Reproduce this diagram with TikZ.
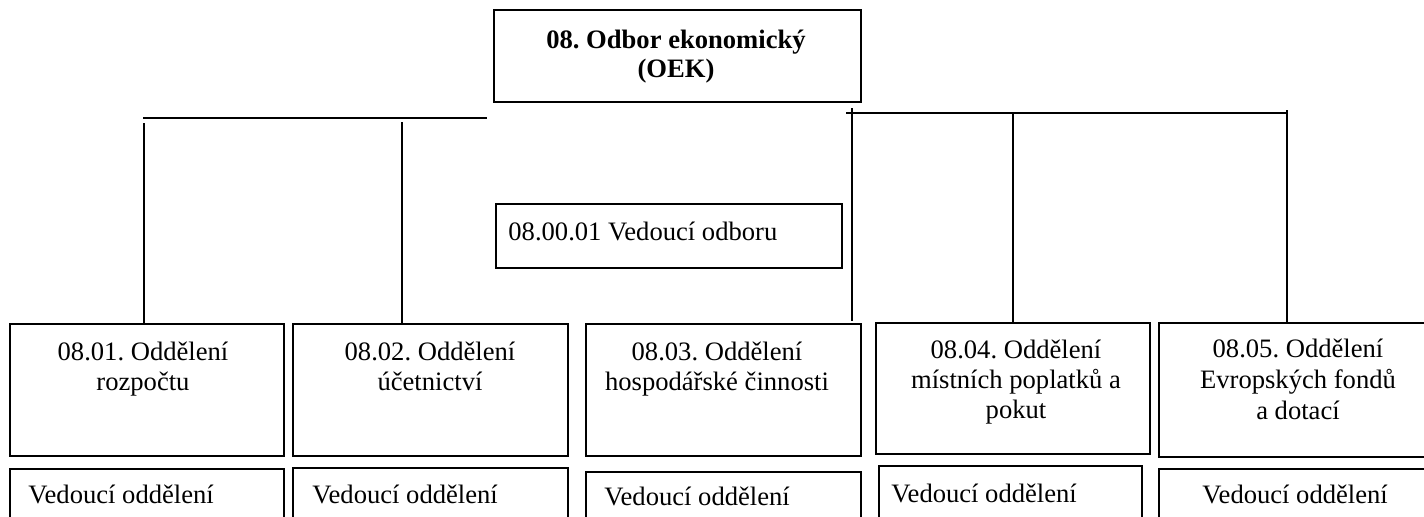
\documentclass[tikz,border=0pt]{standalone}
\usepackage{fontspec}
\setmainfont{Liberation Serif}
\frenchspacing
\begin{document}
\begin{tikzpicture}[x=0.5pt,y=-0.5pt,
  conn/.style={line width=1pt},
  box/.style={draw, line width=1.2pt, inner sep=0pt},
  txt/.style={font=\fontsize{13.3}{15}\selectfont, inner sep=0pt, align=center, anchor=base},
  ltxt/.style={font=\fontsize{13.3}{15}\selectfont, inner sep=0pt, anchor=base west},
]
\useasboundingbox (0,0) rectangle (1424,516);
\clip (0,0) rectangle (1424,516);

% boxes
\node[box, minimum width=183.5pt, minimum height=46pt] (top) at (677.5,56) {};
\node[box, minimum width=173pt, minimum height=32pt] (vod) at (669,236) {};
\node[box, minimum width=137pt, minimum height=66pt] (b1) at (147,390) {};
\node[box, minimum width=137.5pt, minimum height=66pt] (b2) at (430.5,390) {};
\node[box, minimum width=137.5pt, minimum height=66pt] (b3) at (723.5,390) {};
\node[box, minimum width=137pt, minimum height=65.5pt] (b4) at (1013,388.5) {};
\node[box, minimum width=135.5pt, minimum height=67pt] (b5) at (1294.5,390) {};
\node[box, minimum width=137pt, minimum height=45.5pt] (v1) at (147,514.5) {};
\node[box, minimum width=137.5pt, minimum height=46pt] (v2) at (430.5,514) {};
\node[box, minimum width=137.5pt, minimum height=44pt] (v3) at (723.5,516) {};
\node[box, minimum width=131.5pt, minimum height=47pt] (v4) at (1010.5,513) {};
\node[box, minimum width=135.5pt, minimum height=45.5pt] (v5) at (1294.5,514.5) {};

% texts (base anchor = baseline of last line)
\node[txt, font=\fontsize{13.3}{14.5}\selectfont\bfseries] (ttop) at (676,77) {08. Odbor ekonomický\\(OEK)};
\node[ltxt] (tvod) at (508,240) {08.00.01 Vedoucí odboru};
\node[txt] (t1) at (143,390) {08.01. Oddělení\\rozpočtu};
\node[txt] (t2) at (430,390) {08.02. Oddělení\\účetnictví};
\node[txt] (t3) at (717,390) {08.03. Oddělení\\hospodářské činnosti};
\node[txt] (t4) at (1016,418) {08.04. Oddělení\\místních poplatků a\\pokut};
\node[txt, font=\fontsize{13.3}{15.5}\selectfont] (t5) at (1298,419) {08.05. Oddělení\\Evropských fondů\\a dotací};
\node[ltxt] (u1) at (28,503) {Vedoucí oddělení};
\node[ltxt] (u2) at (312,503) {Vedoucí oddělení};
\node[ltxt] (u3) at (604,505) {Vedoucí oddělení};
\node[ltxt] (u4) at (891,502) {Vedoucí oddělení};
\node[ltxt] (u5) at (1202,503) {Vedoucí oddělení};

% connectors
\coordinate (L1) at (143,118);
\coordinate (L2) at (487,118);
\coordinate (R1) at (846,113);
\coordinate (R2) at (1287,113);
\coordinate (d1) at (144,123);
\coordinate (d2) at (402,122);
\coordinate (d3) at (852,108);
\coordinate (d4) at (1013,112);
\coordinate (d5) at (1287,110);
\draw[conn] (L1) -- (L2);
\draw[conn] (R1) -- (R2);
\draw[conn] (d1) -- (d1 |- b1.north);
\draw[conn] (d2) -- (d2 |- b2.north);
\draw[conn] (d3) -- ([yshift=1pt]d3 |- b3.north);
\draw[conn] (d4) -- (d4 |- b4.north);
\draw[conn] (d5) -- (d5 |- b5.north);
\end{tikzpicture}
\end{document}
